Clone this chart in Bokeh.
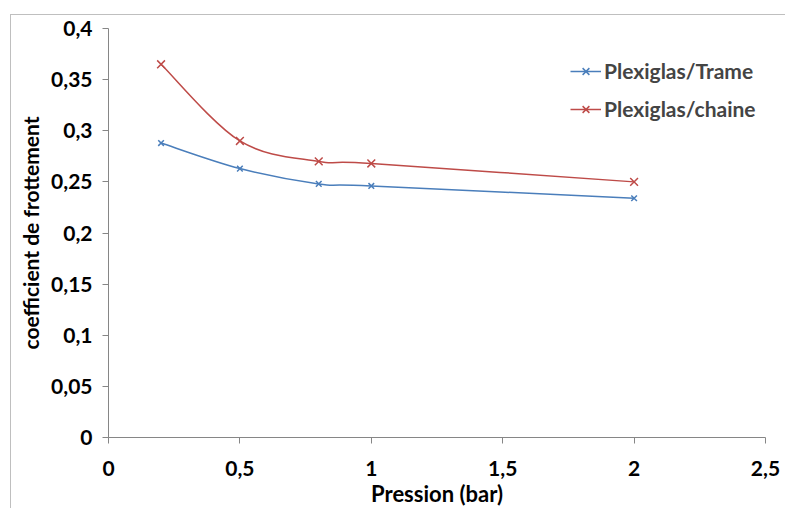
from bokeh.plotting import figure
from bokeh.models import FixedTicker, Legend, LegendItem
from bokeh.embed import file_html
from bokeh.resources import INLINE

# ---- data ----
pression = [0.2, 0.5, 0.8, 1.0, 2.0]
trame = [0.288, 0.263, 0.248, 0.246, 0.234]
chaine = [0.365, 0.290, 0.270, 0.268, 0.250]
series_names = ["Plexiglas/Trame", "Plexiglas/chaine"]
x_ticks = [0, 0.5, 1, 1.5, 2, 2.5]
x_tick_labels = ["0", "0,5", "1", "1,5", "2", "2,5"]
y_ticks = [0, 0.05, 0.1, 0.15, 0.2, 0.25, 0.3, 0.35, 0.4]
y_tick_labels = ["0", "0,05", "0,1", "0,15", "0,2", "0,25", "0,3", "0,35", "0,4"]

BLUE = "#4A7EBB"
RED = "#BE4B48"
AXIS = "#868686"
FONT = "Lato"


def smooth_segments(xs, ys):
    """Bezier control points for a Catmull-Rom style smoothed line."""
    n = len(xs)
    seg = dict(x0=[], y0=[], x1=[], y1=[], cx0=[], cy0=[], cx1=[], cy1=[])
    for i in range(n - 1):
        xp, yp = (xs[i - 1], ys[i - 1]) if i > 0 else (xs[i], ys[i])
        xn, yn = (xs[i + 2], ys[i + 2]) if i + 2 < n else (xs[i + 1], ys[i + 1])
        seg["x0"].append(xs[i]); seg["y0"].append(ys[i])
        seg["x1"].append(xs[i + 1]); seg["y1"].append(ys[i + 1])
        seg["cx0"].append(xs[i] + (xs[i + 1] - xp) / 6)
        seg["cy0"].append(ys[i] + (ys[i + 1] - yp) / 6)
        seg["cx1"].append(xs[i + 1] - (xn - xs[i]) / 6)
        seg["cy1"].append(ys[i + 1] - (yn - ys[i]) / 6)
    return seg


p = figure(width=775, height=494, output_backend="svg", toolbar_location=None,
           x_range=(0, 2.5), y_range=(0, 0.4),
           min_border_left=97, min_border_right=21, min_border_top=13, min_border_bottom=71)
p.margin = (14, 0, 0, 10)
p.styles = {"border-top": "1px solid #BFBFBF", "border-left": "1px solid #BFBFBF",
            "border-right": "none", "border-bottom": "none"}
p.outline_line_color = None
p.xgrid.visible = False
p.ygrid.visible = False
p.background_fill_color = "white"
p.border_fill_color = "white"

items = []
for ys, color, size, name in [(trame, BLUE, 8, series_names[0]), (chaine, RED, 11, series_names[1])]:
    b = p.bezier(line_color=color, line_width=1.5, **smooth_segments(pression, ys))
    s = p.scatter(pression, ys, marker="x", size=size, line_color=color, line_width=1.5)
    items.append(LegendItem(label=name, renderers=[b, s]))

legend = Legend(items=items, location=(462, 316), padding=0, margin=0, spacing=13,
                glyph_width=31, glyph_height=24, label_height=24, label_standoff=3,
                label_text_font=FONT, label_text_font_style="bold", label_text_font_size="21px",
                border_line_color=None, background_fill_alpha=0)
p.add_layout(legend)

for ax in (p.xaxis[0], p.yaxis[0]):
    ax.axis_line_color = AXIS
    ax.major_tick_line_color = AXIS
    ax.minor_tick_line_color = None
    ax.major_tick_in = 0
    ax.major_tick_out = 6
    ax.major_label_text_font = FONT
    ax.major_label_text_font_style = "bold"
    ax.major_label_text_font_size = "21px"
    ax.major_label_text_color = "black"
    ax.axis_label_text_font = FONT
    ax.axis_label_text_font_style = "bold"
    ax.axis_label_text_color = "black"

p.xaxis.axis_label_text_font_size = "22px"
p.yaxis.axis_label_text_font_size = "21px"
p.xaxis.ticker = FixedTicker(ticks=x_ticks)
p.xaxis.major_label_overrides = dict(zip(x_ticks, x_tick_labels))
p.yaxis.ticker = FixedTicker(ticks=y_ticks)
p.yaxis.major_label_overrides = dict(zip(y_ticks, y_tick_labels))
p.xaxis.axis_label = "Pression (bar)"
p.yaxis.axis_label = "coefficient de frottement"
p.xaxis.major_label_standoff = 17
p.xaxis.axis_label_standoff = 1
p.yaxis.major_label_standoff = 10
p.yaxis.axis_label_standoff = 5

open("out.html", "w").write(file_html(p, INLINE))
